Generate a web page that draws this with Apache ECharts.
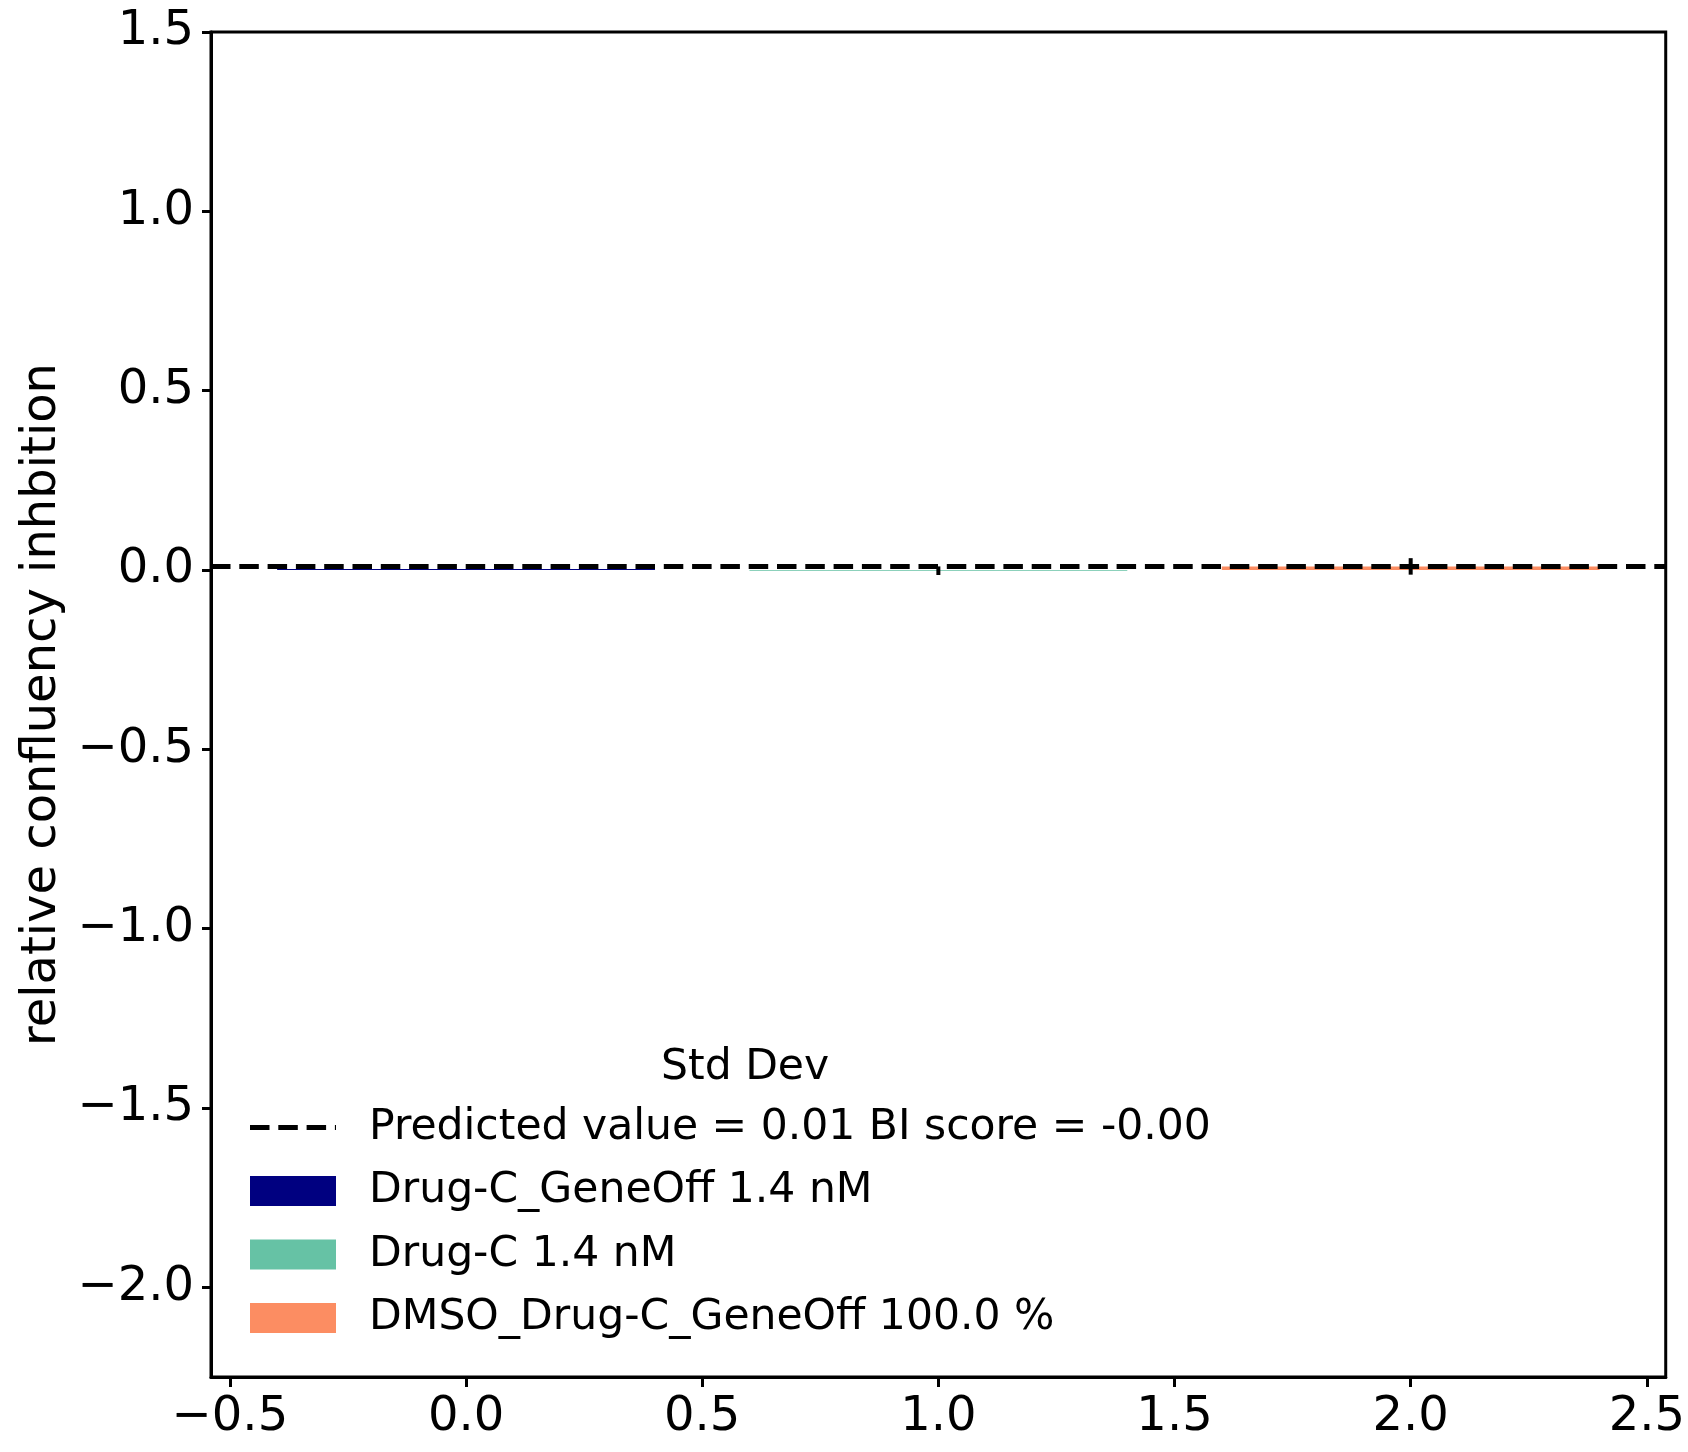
<!DOCTYPE html>
<html>
<head>
<meta charset="utf-8">
<script src="https://cdn.jsdelivr.net/npm/echarts@6/dist/echarts.min.js"></script>
<style>
html,body{margin:0;padding:0;background:#fff;}
#chart{width:1688px;height:1452px;}
</style>
</head>
<body>
<div id="chart"></div>
<script>
// ---- data ----
const categories = ['Drug-C_GeneOff 1.4 nM', 'Drug-C 1.4 nM', 'DMSO_Drug-C_GeneOff 100.0 %'];
const xPositions = [0, 1, 2];
const barValues = [0.003, -0.002, 0.010];
const stdDevs = [0, 0.012, 0.023];
const barColors = ['#000080', '#66c2a5', '#fc8d62'];
const predictedValue = 0.01;
const predictedName = 'Predicted value = 0.01 BI score = -0.00';
const legendTitle = 'Std Dev';
const yAxisName = 'relative confluency inhbition';
const xTicks = [-0.5, 0, 0.5, 1, 1.5, 2, 2.5];
const yTicks = [-2, -1.5, -1, -0.5, 0, 0.5, 1, 1.5];
const xLimits = [-0.54, 2.54];
const yLimits = [-2.25, 1.5];

// ---- chart ----
const FONT = 'DejaVu Sans';
const BAR_HALF = 0.4;
const DASH = [19.5, 8.8];
const fmt = v => v.toFixed(1).replace('-', '\u2212');

const chart = echarts.init(document.getElementById('chart'), null, {renderer: 'canvas'});

const barSeries = categories.map((name, i) => ({
  name: name,
  type: 'custom',
  z: 2,
  itemStyle: {color: barColors[i]},
  data: [[xPositions[i], barValues[i]]],
  renderItem: (params, api) => {
    const x = api.value(0), v = api.value(1);
    const p0 = api.coord([x - BAR_HALF, v]);
    const p1 = api.coord([x + BAR_HALF, 0]);
    return {
      type: 'rect',
      shape: {x: p0[0], y: Math.min(p0[1], p1[1]), width: p1[0] - p0[0], height: Math.max(Math.abs(p1[1] - p0[1]), 0.8)},
      style: {fill: barColors[i]}
    };
  }
}));

const errSeries = {
  name: 'err',
  type: 'custom',
  z: 3,
  data: xPositions.map((x, i) => [x, barValues[i], stdDevs[i]]),
  renderItem: (params, api) => {
    const x = api.value(0), v = api.value(1), e = api.value(2);
    if (!e) return null;
    const a = api.coord([x, v - e]);
    const b = api.coord([x, v + e]);
    return {
      type: 'line',
      shape: {x1: a[0], y1: a[1], x2: b[0], y2: b[1]},
      style: {stroke: '#000', lineWidth: 4}
    };
  }
};

const predSeries = {
  name: predictedName,
  type: 'custom',
  z: 4,
  itemStyle: {color: '#000'},
  data: [[xLimits[0], xLimits[1], predictedValue]],
  renderItem: (params, api) => {
    const a = api.coord([api.value(0), api.value(2)]);
    const b = api.coord([api.value(1), api.value(2)]);
    return {
      type: 'line',
      shape: {x1: a[0], y1: a[1], x2: b[0], y2: b[1]},
      style: {stroke: '#000', lineWidth: 5, lineDash: DASH}
    };
  }
};

const dashIcon = 'path://M0,0M86,30M0,12.5h19.5v5h-19.5zM28.3,12.5h19.5v5h-19.5zM56.6,12.5h19.5v5h-19.5zM84.9,12.5h1.1v5h-1.1z';

const option = {
  animation: false,
  backgroundColor: '#fff',
  grid: {left: 211, top: 32, right: 22, bottom: 75, show: true, borderColor: '#000', borderWidth: 3, backgroundColor: 'transparent'},
  xAxis: {
    type: 'value',
    min: xLimits[0], max: xLimits[1],
    splitLine: {show: false},
    axisLine: {show: true, onZero: false, lineStyle: {color: '#000', width: 3}},
    axisTick: {show: true, length: 10, lineStyle: {color: '#000', width: 3}, customValues: xTicks},
    axisLabel: {show: true, margin: 17, color: '#000', fontFamily: FONT, fontSize: 48, customValues: xTicks, formatter: fmt}
  },
  yAxis: {
    type: 'value',
    min: yLimits[0], max: yLimits[1],
    name: yAxisName,
    nameLocation: 'middle',
    nameGap: 140,
    nameTextStyle: {color: '#000', fontFamily: FONT, fontSize: 48},
    splitLine: {show: false},
    axisLine: {show: true, onZero: false, lineStyle: {color: '#000', width: 3}},
    axisTick: {show: true, length: 9, lineStyle: {color: '#000', width: 3}, customValues: yTicks},
    axisLabel: {show: true, margin: 17, color: '#000', fontFamily: FONT, fontSize: 48, customValues: yTicks, formatter: fmt}
  },
  legend: {
    orient: 'vertical',
    left: 250,
    top: 1106,
    padding: 0,
    itemWidth: 86,
    itemHeight: 30,
    itemGap: 20.5,
    selectedMode: false,
    textStyle: {color: '#000', fontFamily: FONT, fontSize: 42.5, padding: [0, 0, 0, 28]},
    data: [
      {name: predictedName, icon: dashIcon},
      ...categories.map(c => ({name: c, icon: 'rect'}))
    ]
  },
  graphic: [{
    type: 'text',
    left: 751 - 90, top: 1046,
    style: {text: legendTitle, fill: '#000', font: '42.5px "DejaVu Sans"', width: 180, align: 'center'}
  }],
  series: [...barSeries, errSeries, predSeries]
};
chart.setOption(option);
</script>
</body>
</html>
